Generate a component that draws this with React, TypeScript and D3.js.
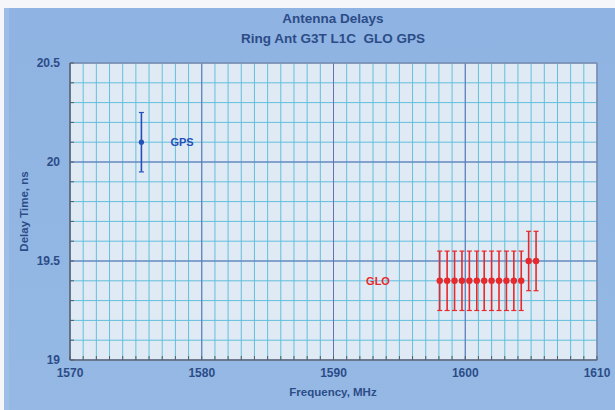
import React from "react";
import * as d3 from "d3";

const titleLines = ["Antenna Delays", "Ring Ant G3T L1C  GLO GPS"];
const xTicks = [1570, 1580, 1590, 1600, 1610];
const yTicks = [19, 19.5, 20, 20.5];
const gpsFreq = [1575.42];
const gpsDelay = [20.1];
const gpsErr = [0.15];
const gloFreq = [1598.0625, 1598.625, 1599.1875, 1599.75, 1600.3125, 1600.875, 1601.4375, 1602.0, 1602.5625, 1603.125, 1603.6875, 1604.25, 1604.8125, 1605.375];
const gloDelay = [19.4, 19.4, 19.4, 19.4, 19.4, 19.4, 19.4, 19.4, 19.4, 19.4, 19.4, 19.4, 19.5, 19.5];
const gloErr = [0.15, 0.15, 0.15, 0.15, 0.15, 0.15, 0.15, 0.15, 0.15, 0.15, 0.15, 0.15, 0.15, 0.15];

const W = 615, H = 410;
const L = 70, R = 597, T = 63, B = 360;
const FONT = "'Liberation Sans', Arial, sans-serif";
const TXT = "#2c4c88";

export default function App() {
  const x = d3.scaleLinear().domain([1570, 1610]).range([L, R]);
  const y = d3.scaleLinear().domain([19, 20.5]).range([B, T]);
  const xMinor = d3.range(1570, 1611, 1);
  const yMinor = d3.range(0, 16).map((i) => 19 + i * 0.1);

  const errBar = (fx: number, fy: number, e: number, color: string, key: string, r: number) => (
    <g key={key}>
      <line x1={x(fx)} x2={x(fx)} y1={y(fy + e)} y2={y(fy - e)} stroke={color} strokeWidth={1.6} />
      <line x1={x(fx) - 2.5} x2={x(fx) + 2.5} y1={y(fy + e)} y2={y(fy + e)} stroke={color} strokeWidth={1.2} />
      <line x1={x(fx) - 2.5} x2={x(fx) + 2.5} y1={y(fy - e)} y2={y(fy - e)} stroke={color} strokeWidth={1.2} />
      <circle cx={x(fx)} cy={y(fy)} r={r} fill={color} />
    </g>
  );

  return (
    <svg width={W} height={H} style={{ position: "absolute", left: 0, top: 0 }}>
      <defs>
        <linearGradient id="bg" x1="0" y1="0" x2="0" y2="1">
          <stop offset="0" stopColor="#8fb3e2" />
          <stop offset="1" stopColor="#95b9e4" />
        </linearGradient>
      </defs>
      <rect x={0} y={0} width={W} height={H} fill="#f4f6f9" />
      <rect x={4} y={8} width={W - 4} height={H - 8} fill="url(#bg)" />
      <rect x={4} y={8} width={5} height={H - 8} fill="#a3c1e8" opacity={0.7} />
      <rect x={L} y={T} width={R - L} height={B - T} fill="#e0eaf5" />
      {xMinor.map((v) => (
        <line key={"xm" + v} x1={x(v)} x2={x(v)} y1={T} y2={B} stroke="#62bfdc" strokeWidth={1} />
      ))}
      {yMinor.map((v, i) => (
        <line key={"ym" + i} x1={L} x2={R} y1={y(v)} y2={y(v)} stroke="#62bfdc" strokeWidth={1} />
      ))}
      {xTicks.map((v) => (
        <line key={"xM" + v} x1={x(v)} x2={x(v)} y1={T} y2={B} stroke="#6470b4" strokeWidth={1} />
      ))}
      {yTicks.map((v) => (
        <line key={"yM" + v} x1={L} x2={R} y1={y(v)} y2={y(v)} stroke="#6470b4" strokeWidth={1} />
      ))}
      <rect x={L} y={T} width={R - L} height={B - T} fill="none" stroke="#8a93a8" strokeWidth={1} />
      <line x1={L} x2={L} y1={T} y2={B} stroke="#555c66" strokeWidth={1.2} />
      <line x1={L} x2={R} y1={B} y2={B} stroke="#555c66" strokeWidth={1.2} />
      {xMinor.map((v) => (
        <line key={"xt" + v} x1={x(v)} x2={x(v)} y1={B} y2={B - 4} stroke="#555c66" strokeWidth={1} />
      ))}
      {yMinor.map((v, i) => (
        <line key={"yt" + i} x1={L} x2={L + 4} y1={y(v)} y2={y(v)} stroke="#555c66" strokeWidth={1} />
      ))}
      {xTicks.map((v) => (
        <text key={"xl" + v} x={x(v)} y={377} textAnchor="middle" fontFamily={FONT} fontWeight="bold" fontSize={12} fill={TXT}>
          {v}
        </text>
      ))}
      {yTicks.map((v) => (
        <text key={"yl" + v} x={60} y={y(v) + 4} textAnchor="end" fontFamily={FONT} fontWeight="bold" fontSize={12} fill={TXT}>
          {v}
        </text>
      ))}
      {titleLines.map((t, i) => (
        <text key={"t" + i} x={333} y={23 + i * 20} textAnchor="middle" fontFamily={FONT} fontWeight="bold" fontSize={13.5} fill={TXT} style={{ whiteSpace: "pre" }}>
          {t}
        </text>
      ))}
      <text x={333} y={396} textAnchor="middle" fontFamily={FONT} fontWeight="bold" fontSize={11.5} fill={TXT}>
        Frequency, MHz
      </text>
      <text transform={`translate(28,${(T + B) / 2}) rotate(-90)`} textAnchor="middle" fontFamily={FONT} fontWeight="bold" fontSize={11.5} fill={TXT}>
        Delay Time, ns
      </text>
      {gpsFreq.map((f, i) => errBar(f, gpsDelay[i], gpsErr[i], "#2450b8", "gps" + i, 2.6))}
      {gloFreq.map((f, i) => errBar(f, gloDelay[i], gloErr[i], "#e8282a", "glo" + i, 3.2))}
      <text x={182} y={y(20.1) + 4} textAnchor="middle" fontFamily={FONT} fontWeight="bold" fontSize={11} fill="#2450b8">
        GPS
      </text>
      <text x={378} y={y(19.4) + 4} textAnchor="middle" fontFamily={FONT} fontWeight="bold" fontSize={11} fill="#e8282a">
        GLO
      </text>
    </svg>
  );
}
